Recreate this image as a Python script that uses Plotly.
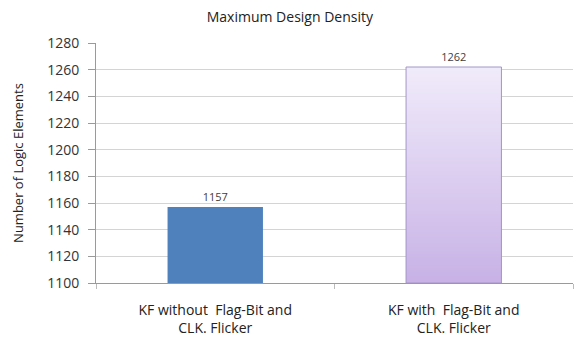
import plotly.graph_objects as go

# Chart data
categories = ["KF without\u00a0 Flag-Bit and<br>CLK. Flicker", "KF with\u00a0 Flag-Bit and<br>CLK. Flicker"]
logic_elements = [1157, 1262]
y_ticks = list(range(1100, 1281, 20))

AXIS_MIN = 1100
FONT = "Open Sans"
BAR_W = 0.4

fig = go.Figure()

# First bar: solid blue
fig.add_trace(go.Bar(
    x=[categories[0]], y=[logic_elements[0] - AXIS_MIN], base=[AXIS_MIN],
    width=BAR_W, marker=dict(color="#4F81BD", line=dict(width=0)),
    hoverinfo="skip",
))

# Second bar: vertical lavender gradient made of nested layers that all
# reach the bar top, each starting a little higher (no seams between bands)
n_slices = 60
top_rgb = (240, 235, 250)
bot_rgb = (200, 178, 230)
top_val = logic_elements[1]
step = (top_val - AXIS_MIN) / n_slices
bases, heights, colors = [], [], []
for i in range(n_slices):
    t = i / (n_slices - 1)  # 0 at bottom, 1 at top
    r = round(bot_rgb[0] + (top_rgb[0] - bot_rgb[0]) * t)
    g = round(bot_rgb[1] + (top_rgb[1] - bot_rgb[1]) * t)
    b = round(bot_rgb[2] + (top_rgb[2] - bot_rgb[2]) * t)
    base = AXIS_MIN + i * step
    bases.append(base)
    heights.append(top_val - base)
    colors.append(f"rgb({r},{g},{b})")
for base, hgt, col in zip(bases, heights, colors):
    fig.add_trace(go.Bar(
        x=[categories[1]], y=[hgt], base=[base],
        width=BAR_W, marker=dict(color=col, line=dict(width=0)),
        hoverinfo="skip",
    ))

# Outline + value labels for both bars
fig.add_trace(go.Bar(
    x=categories, y=[v - AXIS_MIN for v in logic_elements], base=[AXIS_MIN] * 2,
    width=BAR_W,
    marker=dict(color="rgba(0,0,0,0)",
                line=dict(color=["rgba(0,0,0,0)", "#A496C8"], width=1)),
    text=[str(v) for v in logic_elements], textposition="outside",
    textfont=dict(family=FONT, size=11, color="#404040"),
    cliponaxis=False, hoverinfo="skip",
))

fig.update_layout(
    width=574, height=337,
    margin=dict(l=96, r=1, t=43, b=54),
    barmode="overlay",
    showlegend=False,
    paper_bgcolor="white", plot_bgcolor="white",
    font=dict(family=FONT, color="#333333"),
    title=dict(text="Maximum Design Density", x=0.505, xanchor="center",
               y=0.95, yanchor="middle",
               font=dict(family=FONT, size=14, color="#222222")),
    yaxis=dict(
        range=[AXIS_MIN, 1280], tickvals=y_ticks,
        showgrid=True, gridcolor="#D4D4D4", gridwidth=1,
        showline=True, linecolor="#9A9A9A", linewidth=1,
        ticks="outside", ticklen=7, tickcolor="#9A9A9A",
        ticklabelstandoff=6,
        tickfont=dict(family=FONT, size=14, color="#333333"),
        title=dict(text="Number of Logic Elements", standoff=20,
                   font=dict(family=FONT, size=13, color="#222222")),
        zeroline=False,
    ),
    xaxis=dict(
        showline=True, linecolor="#9A9A9A", linewidth=1,
        ticks="outside", ticklen=5, tickcolor="#BBBBBB",
        tickson="boundaries", ticklabelstandoff=14,
        tickfont=dict(family=FONT, size=14, color="#222222"),
        showgrid=False,
    ),
)

fig.write_html("out.html")
